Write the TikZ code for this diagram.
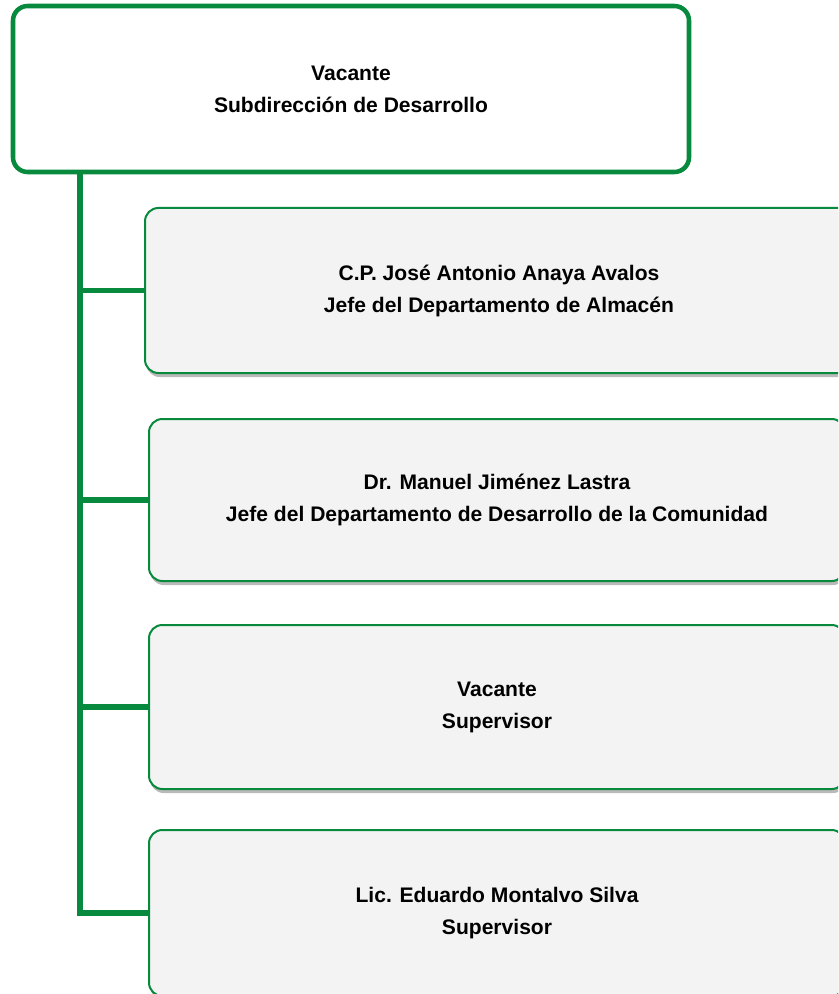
\documentclass[tikz,border=0pt]{standalone}
\usepackage{fontspec}
\setmainfont{Liberation Sans}
\usetikzlibrary{shadows}
\definecolor{orgGreen}{RGB}{8,138,62}
\definecolor{boxFill}{RGB}{243,243,243}
\tikzset{
  topbox/.style={draw=orgGreen, line width=3.4pt, fill=white, rounded corners=11pt,
    align=center, font=\fontsize{15.8}{24}\selectfont\bfseries, inner sep=0pt},
  childbox/.style={draw=orgGreen, line width=1.5pt, fill=boxFill, rounded corners=10pt,
    align=center, font=\fontsize{15.8}{24}\selectfont\bfseries, inner sep=0pt,
    drop shadow={shadow xshift=1pt, shadow yshift=-3pt, opacity=0.5, fill=black!55}},
  link/.style={draw=orgGreen, line width=4pt}
}
\begin{document}
\begin{tikzpicture}[x=0.75pt,y=-0.75pt]
\useasboundingbox (0,0) rectangle (838,994);
\begin{scope}
\clip (0,0) rectangle (838,994);
\node[topbox, minimum width=507pt, minimum height=124.5pt] (top) at (351,89)
  {Vacante\\Subdirección de Desarrollo};
\coordinate (t0) at (80,172);
\node[childbox, minimum width=531pt, minimum height=123.75pt] (c1) at (499,290.5)
  {C.P. José Antonio Anaya Avalos\\Jefe del Departamento de Almacén};
\node[childbox, minimum width=522pt, minimum height=121.5pt] (c2) at (497,500)
  {Dr. Manuel Jiménez Lastra\\Jefe del Departamento de Desarrollo de la Comunidad};
\node[childbox, minimum width=522pt, minimum height=123pt] (c3) at (497,707)
  {Vacante\\Supervisor};
\node[childbox, minimum width=522pt, minimum height=124.5pt] (c4) at (497,913)
  {Lic. Eduardo Montalvo Silva\\Supervisor};
\draw[link] (t0) |- (c4.west);
\draw[link] (t0 |- c1.west) -- (c1.west);
\draw[link] (t0 |- c2.west) -- (c2.west);
\draw[link] (t0 |- c3.west) -- (c3.west);
\end{scope}
\end{tikzpicture}
\end{document}
